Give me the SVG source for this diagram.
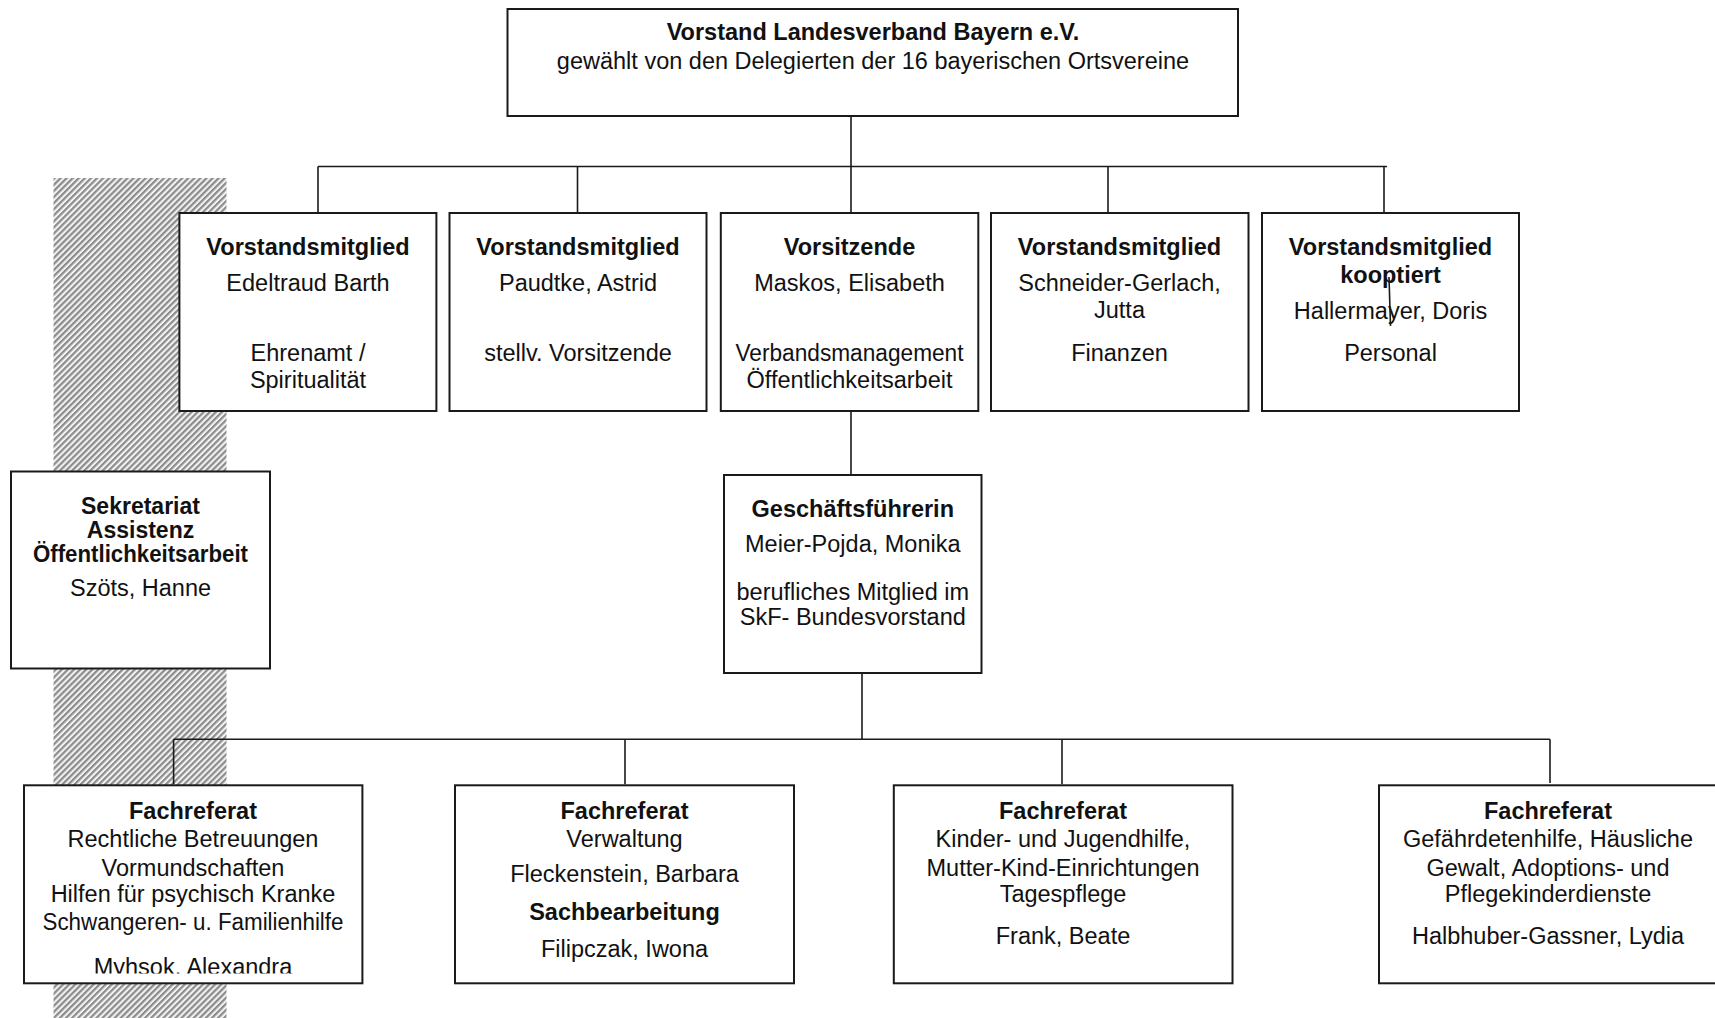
<svg xmlns="http://www.w3.org/2000/svg" width="1715" height="1018" viewBox="0 0 1715 1018">
  <style>
    .box { fill: #ffffff; stroke: #1a1a1a; stroke-width: 2; }
    .conn { stroke: #1a1a1a; stroke-width: 1.6; fill: none; }
    text { font-family: "Liberation Sans", Arial, Helvetica, sans-serif; font-size: 23.5px; fill: #111111; text-anchor: middle; }
    .b { font-weight: bold; }
  </style>
  <defs>
    <pattern id="hatch" patternUnits="userSpaceOnUse" width="4.3" height="10" patternTransform="rotate(45)">
      <rect x="0" y="0" width="4.3" height="10" fill="#f2f2f2"/>
      <rect x="0" y="0" width="2.2" height="10" fill="#8c8c8c"/>
    </pattern>
    <clipPath id="clipA">
      <rect x="24" y="785" width="338" height="188.5"/>
    </clipPath>
  </defs>

  <rect width="1715" height="1018" fill="#ffffff"/>

  <!-- hatched band -->
  <rect id="band" x="53.5" y="178" width="173" height="840" fill="url(#hatch)"/>

  <!-- top -->
  <g id="vorstand">
    <rect class="box" x="507.5" y="9" width="730.5" height="107"/>
    <text class="b" x="873" y="39.5">Vorstand Landesverband Bayern e.V.</text>
    <text x="873" y="68.5">gewählt von den Delegierten der 16 bayerischen Ortsvereine</text>
  </g>

  <!-- row 1 -->
  <g id="barth">
    <rect class="box" x="179.4" y="213" width="257" height="198"/>
    <text class="b" x="308" y="255">Vorstandsmitglied</text>
    <text x="308" y="290.7">Edeltraud Barth</text>
    <text x="308" y="361">Ehrenamt /</text>
    <text x="308" y="388">Spiritualität</text>
  </g>
  <g id="paudtke">
    <rect class="box" x="449.5" y="213" width="257" height="198"/>
    <text class="b" x="578" y="255">Vorstandsmitglied</text>
    <text x="578" y="290.7">Paudtke, Astrid</text>
    <text x="578" y="361">stellv. Vorsitzende</text>
  </g>
  <g id="maskos">
    <rect class="box" x="720.8" y="213" width="257.5" height="198"/>
    <text class="b" x="849.5" y="255">Vorsitzende</text>
    <text x="849.5" y="290.7">Maskos, Elisabeth</text>
    <text x="849.5" y="360.5" textLength="228" lengthAdjust="spacingAndGlyphs">Verbandsmanagement</text>
    <text x="849.5" y="388">Öffentlichkeitsarbeit</text>
  </g>
  <g id="schneider">
    <rect class="box" x="991" y="213" width="257.5" height="198"/>
    <text class="b" x="1119.5" y="255">Vorstandsmitglied</text>
    <text x="1119.5" y="290.7">Schneider-Gerlach,</text>
    <text x="1119.5" y="318">Jutta</text>
    <text x="1119.5" y="360.5">Finanzen</text>
  </g>
  <g id="hallermayer">
    <rect class="box" x="1262" y="213" width="257" height="198"/>
    <text class="b" x="1390.5" y="255">Vorstandsmitglied</text>
    <text class="b" x="1390.5" y="283">kooptiert</text>
    <text x="1390.5" y="318.5">Hallermayer, Doris</text>
    <text x="1390.5" y="360.5">Personal</text>
  </g>

  <!-- Sekretariat -->
  <g id="sekretariat">
    <rect class="box" x="11" y="471.5" width="259" height="197"/>
    <text class="b" x="140.5" y="513.5" style="font-size:23px">Sekretariat</text>
    <text class="b" x="140.5" y="537.5" style="font-size:23px">Assistenz</text>
    <text class="b" x="140.5" y="561.5" style="font-size:23px" textLength="215" lengthAdjust="spacingAndGlyphs">Öffentlichkeitsarbeit</text>
    <text x="140.5" y="596">Szöts, Hanne</text>
  </g>

  <!-- Geschäftsführerin -->
  <g id="geschaeftsfuehrerin">
    <rect class="box" x="724" y="475" width="257.5" height="198"/>
    <text class="b" x="852.8" y="516.5">Geschäftsführerin</text>
    <text x="852.8" y="551.5">Meier-Pojda, Monika</text>
    <text x="852.8" y="600">berufliches Mitglied im</text>
    <text x="852.8" y="624.5">SkF- Bundesvorstand</text>
  </g>

  <!-- bottom row -->
  <g id="fachreferat-betreuungen">
    <rect class="box" x="24" y="785.3" width="338.4" height="198"/>
    <text class="b" x="193" y="819.3">Fachreferat</text>
    <text x="193" y="847.3">Rechtliche Betreuungen</text>
    <text x="193" y="875.5">Vormundschaften</text>
    <text x="193" y="902.3">Hilfen für psychisch Kranke</text>
    <text x="193" y="930" textLength="301" lengthAdjust="spacingAndGlyphs">Schwangeren- u. Familienhilfe</text>
    <text x="193" y="975" clip-path="url(#clipA)">Myhsok, Alexandra</text>
  </g>
  <g id="fachreferat-verwaltung">
    <rect class="box" x="455" y="785.3" width="339" height="198"/>
    <text class="b" x="624.5" y="819.3">Fachreferat</text>
    <text x="624.5" y="847.3">Verwaltung</text>
    <text x="624.5" y="881.7">Fleckenstein, Barbara</text>
    <text class="b" x="624.5" y="920">Sachbearbeitung</text>
    <text x="624.5" y="956.7">Filipczak, Iwona</text>
  </g>
  <g id="fachreferat-kinder">
    <rect class="box" x="893.8" y="785.3" width="338.7" height="198"/>
    <text class="b" x="1063" y="819.3">Fachreferat</text>
    <text x="1063" y="847.3">Kinder- und Jugendhilfe,</text>
    <text x="1063" y="875.5">Mutter-Kind-Einrichtungen</text>
    <text x="1063" y="902.3">Tagespflege</text>
    <text x="1063" y="944">Frank, Beate</text>
  </g>
  <g id="fachreferat-gefaehrdete">
    <rect class="box" x="1379" y="785.3" width="360" height="198"/>
    <text class="b" x="1548" y="819.3">Fachreferat</text>
    <text x="1548" y="847.3">Gefährdetenhilfe, Häusliche</text>
    <text x="1548" y="875.5">Gewalt, Adoptions- und</text>
    <text x="1548" y="902.3">Pflegekinderdienste</text>
    <text x="1548" y="944">Halbhuber-Gassner, Lydia</text>
  </g>

  <!-- connectors -->
  <g id="connectors">
    <line class="conn" x1="851" y1="116" x2="851" y2="166.5"/>
    <line class="conn" x1="318" y1="166.5" x2="1387" y2="166.5"/>
    <line class="conn" x1="318" y1="166.5" x2="318" y2="212"/>
    <line class="conn" x1="577.5" y1="166.5" x2="577.5" y2="212"/>
    <line class="conn" x1="851" y1="166.5" x2="851" y2="212"/>
    <line class="conn" x1="1108" y1="166.5" x2="1108" y2="212"/>
    <line class="conn" x1="1384" y1="166.5" x2="1384" y2="212"/>
    <line class="conn" x1="1389" y1="277" x2="1390.5" y2="326"/>
    <line class="conn" x1="851" y1="412" x2="851" y2="474"/>
    <line class="conn" x1="862" y1="674" x2="862" y2="739.3"/>
    <line class="conn" x1="173.6" y1="739.3" x2="1550" y2="739.3"/>
    <line class="conn" x1="173.6" y1="739.3" x2="173.6" y2="784.3"/>
    <line class="conn" x1="625" y1="739.3" x2="625" y2="784.3"/>
    <line class="conn" x1="1062" y1="739.3" x2="1062" y2="784.3"/>
    <line class="conn" x1="1550" y1="739.3" x2="1550" y2="783"/>
  </g>
</svg>
